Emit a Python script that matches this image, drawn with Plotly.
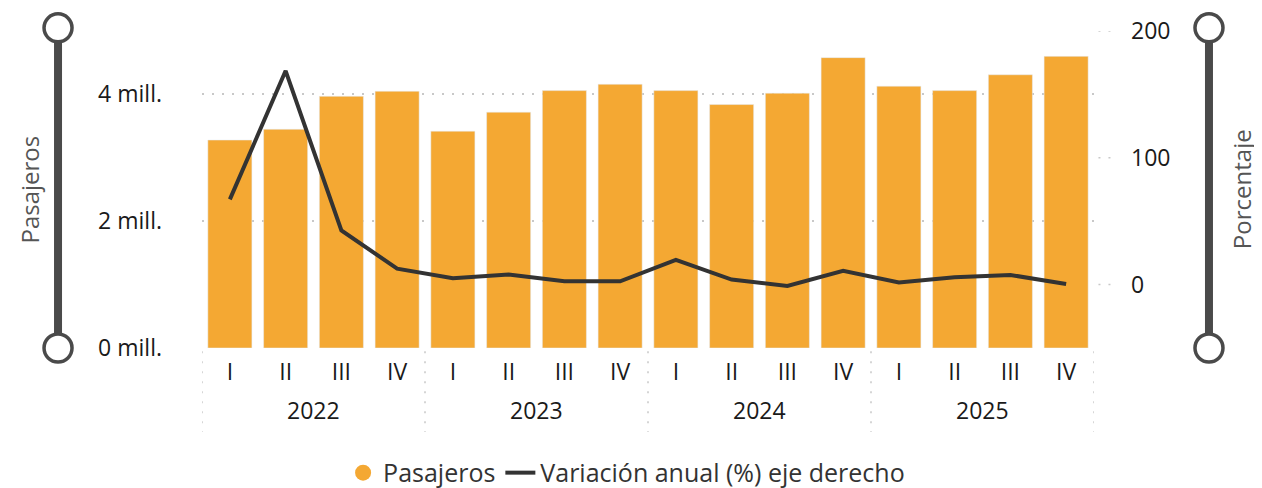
import plotly.graph_objects as go

# datos
years = ["2022", "2023", "2024", "2025"]
quarters = ["I", "II", "III", "IV"]
pasajeros = [3.28e6, 3.45e6, 3.97e6, 4.05e6,
             3.42e6, 3.72e6, 4.06e6, 4.16e6,
             4.06e6, 3.84e6, 4.02e6, 4.58e6,
             4.13e6, 4.06e6, 4.31e6, 4.60e6]
variacion = [67.2, 168.6, 42.7, 12.6,
             5.0, 7.9, 2.6, 2.6,
             19.5, 4.0, -1.0, 10.8,
             1.6, 5.8, 7.6, 0.5]
left_ticks = [0, 2e6, 4e6]
left_labels = ["0 mill.", "2 mill.", "4 mill."]
right_ticks = [0, 100, 200]

ORANGE = "#F4A833"
DARK = "#333333"
GREY = "#4a4a4a"
FONT = "Open Sans"
FS = 23

idx = list(range(len(pasajeros)))
tick_text = [q for _ in years for q in quarters]

fig = go.Figure()
fig.add_trace(go.Bar(x=idx, y=pasajeros, marker_color=ORANGE, name="Pasajeros",
                     showlegend=False))
# entrada de leyenda con círculo
fig.add_trace(go.Scatter(x=[None], y=[None], mode="markers", name="Pasajeros",
                         marker=dict(color=ORANGE, size=20, symbol="circle")))
fig.add_trace(go.Scatter(x=idx, y=variacion, mode="lines", yaxis="y2",
                         name="Variación anual (%) eje derecho",
                         line=dict(color=DARK, width=4)))

n = len(quarters)
shapes = []
# separadores de años
for k in range(len(years) + 1):
    shapes.append(dict(type="line", xref="x", yref="paper", x0=k * n - 0.5, x1=k * n - 0.5,
                       y0=-0.01, y1=-0.265, line=dict(color="#c8c8c8", width=1.5, dash="2px,8px")))
# marcas del eje derecho
for t in right_ticks:
    shapes.append(dict(type="line", xref="paper", yref="y2", x0=1.005, x1=1.02, y0=t, y1=t,
                       line=dict(color="#c8c8c8", width=1.5, dash="2px,8px")))
# deslizadores decorativos
for xp in [-0.1614, 1.1289]:
    shapes.append(dict(type="line", xref="paper", yref="paper", x0=xp, x1=xp, y0=0, y1=1.01,
                       line=dict(color=GREY, width=8)))
    for yp in [0, 1.01]:
        shapes.append(dict(type="circle", xref="paper", yref="paper", xsizemode="pixel",
                           ysizemode="pixel", xanchor=xp, yanchor=yp, x0=-14, x1=14, y0=-14, y1=14,
                           fillcolor="white", line=dict(color=GREY, width=3.5)))

annotations = []
for i, yr in enumerate(years):
    annotations.append(dict(x=i * n + (n - 1) / 2, y=-0.195, xref="x", yref="paper",
                            text=yr, showarrow=False, yanchor="middle",
                            font=dict(size=FS, color="#1a1a1a")))
annotations.append(dict(x=-0.1939, y=0.5, xref="paper", yref="paper", text="Pasajeros",
                        textangle=-90, showarrow=False, xanchor="center", yanchor="middle",
                        font=dict(size=24, color="#555555")))
annotations.append(dict(x=1.1655, y=0.5, xref="paper", yref="paper", text="Porcentaje",
                        textangle=-90, showarrow=False, xanchor="center", yanchor="middle",
                        font=dict(size=24, color="#555555")))

fig.update_layout(
    width=1254, height=480,
    margin=dict(l=194, r=168, t=23, b=140, autoexpand=False),
    plot_bgcolor="white", paper_bgcolor="white",
    font=dict(family=FONT, size=FS, color="#1a1a1a"),
    bargap=0.21,
    xaxis=dict(tickmode="array", tickvals=idx, ticktext=tick_text, range=[-0.5, 15.5],
               showgrid=False, zeroline=False, ticks="", ticklabelstandoff=8),
    yaxis=dict(range=[0, 5e6], tickvals=left_ticks, ticktext=left_labels,
               showgrid=True, gridcolor="#c8c8c8", gridwidth=1.5, griddash="2px,8px",
               zeroline=False, ticklabelstandoff=39),
    yaxis2=dict(range=[-50, 200], tickvals=right_ticks, overlaying="y", side="right",
                showgrid=False, zeroline=False, ticklabelstandoff=36),
    legend=dict(orientation="h", x=0.476, xanchor="center", y=-0.394, yanchor="middle",
                font=dict(size=25, color="#333333"), tracegroupgap=0),
    shapes=shapes, annotations=annotations,
)

fig.write_html("out.html")
